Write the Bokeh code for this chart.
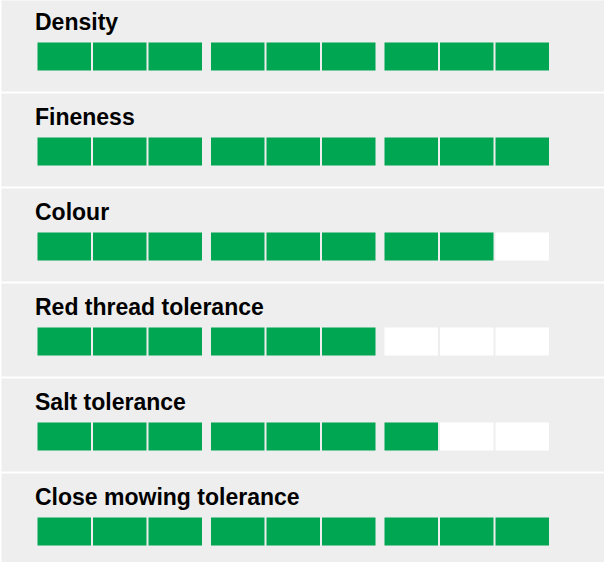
from bokeh.plotting import figure
from bokeh.models import Range1d, ColumnDataSource
from bokeh.embed import file_html
from bokeh.resources import INLINE
from bokeh.core.properties import value

# ---- data ----
attributes = ["Density", "Fineness", "Colour", "Red thread tolerance",
              "Salt tolerance", "Close mowing tolerance"]
scores = [9, 9, 8, 6, 7, 9]
max_score = 9

# ---- layout (page pixel units) ----
W, H = 604, 562
row_pitch = 95
panel_top0, panel_h = 6, 93
panel_left, panel_right = 9, 612
cell_top0, cell_h = 50, 28
cell_x0, cell_w = 45, 53.5
cell_pitch, group_pitch, group_size = 55.5, 173.5, 3
title_x, title_dy = 42.5, 21

GREEN = "#00A651"
GREY = "#EEEEEE"

p = figure(width=W, height=H, output_backend="svg", toolbar_location=None,
           x_range=Range1d(8, 8 + W), y_range=Range1d(8 + H, 8),
           min_border=0, background_fill_color="white", border_fill_color="white")
p.axis.visible = False
p.grid.visible = False
p.outline_line_color = None

# panels
pl, pr, pt, pb = [], [], [], []
for r in range(len(attributes)):
    pl.append(panel_left); pr.append(panel_right)
    pt.append(panel_top0 + r * row_pitch); pb.append(panel_top0 + r * row_pitch + panel_h)
p.quad(left=pl, right=pr, top=pt, bottom=pb, fill_color=GREY, line_color=None)

# cells
cl, cr, ct, cb, cc = [], [], [], [], []
for r, s in enumerate(scores):
    for i in range(max_score):
        g, j = divmod(i, group_size)
        x0 = cell_x0 + g * group_pitch + j * cell_pitch
        y0 = cell_top0 + r * row_pitch
        cl.append(x0); cr.append(x0 + cell_w)
        ct.append(y0); cb.append(y0 + cell_h)
        cc.append(GREEN if i < s else "white")
p.quad(source=ColumnDataSource(dict(l=cl, r=cr, t=ct, b=cb, c=cc)),
       left="l", right="r", top="t", bottom="b", fill_color="c", line_color=None)

# titles
tx = [title_x] * len(attributes)
ty = [cell_top0 + r * row_pitch - title_dy for r in range(len(attributes))]
p.text(x=tx, y=ty, text=attributes, text_font=value("Liberation Sans"),
       text_font_style="bold", text_font_size="23px", text_color="#000000",
       text_baseline="alphabetic", text_align="left")

open("out.html", "w").write(file_html(p, INLINE))
